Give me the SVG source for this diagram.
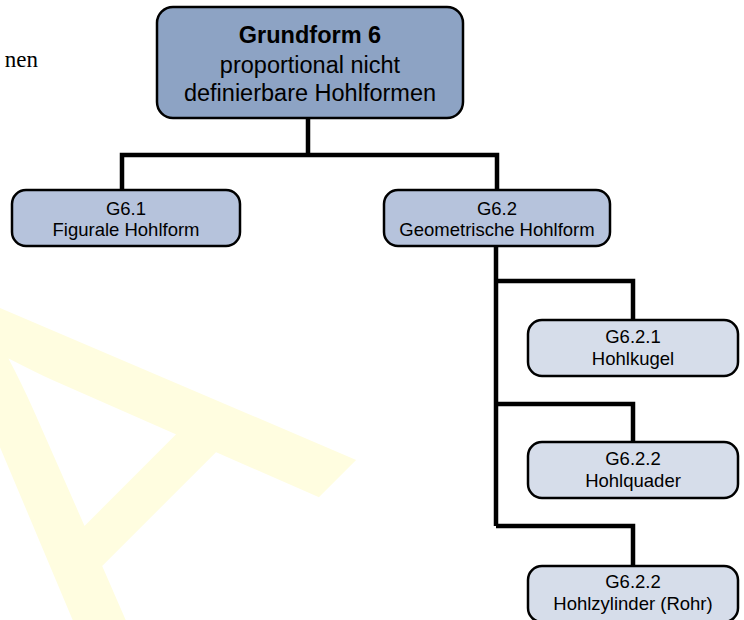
<svg xmlns="http://www.w3.org/2000/svg" width="744" height="620" viewBox="0 0 744 620">
  <style>
    .box { stroke: #000; stroke-width: 2.5; }
    .root { fill: #8DA3C4; }
    .lvl1 { fill: #B6C3DC; }
    .lvl2 { fill: #D6DDEA; }
    .t { font-family: "Liberation Sans", Arial, sans-serif; fill: #000; text-anchor: middle; }
    .big { font-size: 23.5px; }
    .small { font-size: 18.5px; }
    .conn { fill: none; stroke: #000; stroke-width: 4.5; stroke-linejoin: miter; stroke-linecap: butt; }
  </style>

  <!-- background watermark letter -->
  <text x="0" y="0" transform="translate(109 705) rotate(-45)" font-family="Liberation Sans, Arial, sans-serif" font-size="520" fill="#FFFDE0" stroke="#FFFDE0" stroke-width="3">A</text>

  <!-- clipped caption fragment at the left edge -->
  <text x="38" y="67" font-family="Liberation Serif, Times New Roman, serif" font-size="23" text-anchor="end" fill="#000">nen</text>

  <g id="connectors">
    <path class="conn" d="M308 118 V155 M122 190 V155 H497 V190"/>
    <path class="conn" d="M496 245 V526 M496 281 H633 V320 M496 404 H633 V442 M496 526 H633 V566"/>
  </g>

  <g id="root">
    <rect class="box root" x="157" y="7" width="306" height="111" rx="16"/>
    <text class="t big" x="310" y="43" font-weight="bold">Grundform 6</text>
    <text class="t big" x="310" y="73">proportional nicht</text>
    <text class="t big" x="310" y="101">definierbare Hohlformen</text>
  </g>

  <g id="g61">
    <rect class="box lvl1" x="12" y="190" width="228" height="56" rx="14"/>
    <text class="t small" x="126" y="215">G6.1</text>
    <text class="t small" x="126" y="236">Figurale Hohlform</text>
  </g>

  <g id="g62">
    <rect class="box lvl1" x="384" y="190" width="226" height="56" rx="14"/>
    <text class="t small" x="497" y="215">G6.2</text>
    <text class="t small" x="497" y="236">Geometrische Hohlform</text>
  </g>

  <g id="g621">
    <rect class="box lvl2" x="528" y="320" width="210" height="56" rx="14"/>
    <text class="t small" x="633" y="343">G6.2.1</text>
    <text class="t small" x="633" y="365">Hohlkugel</text>
  </g>

  <g id="g622">
    <rect class="box lvl2" x="528" y="442" width="210" height="56" rx="14"/>
    <text class="t small" x="633" y="465">G6.2.2</text>
    <text class="t small" x="633" y="487">Hohlquader</text>
  </g>

  <g id="g623">
    <rect class="box lvl2" x="528" y="566" width="210" height="56" rx="14"/>
    <text class="t small" x="633" y="588">G6.2.2</text>
    <text class="t small" x="633" y="610">Hohlzylinder (Rohr)</text>
  </g>
</svg>
